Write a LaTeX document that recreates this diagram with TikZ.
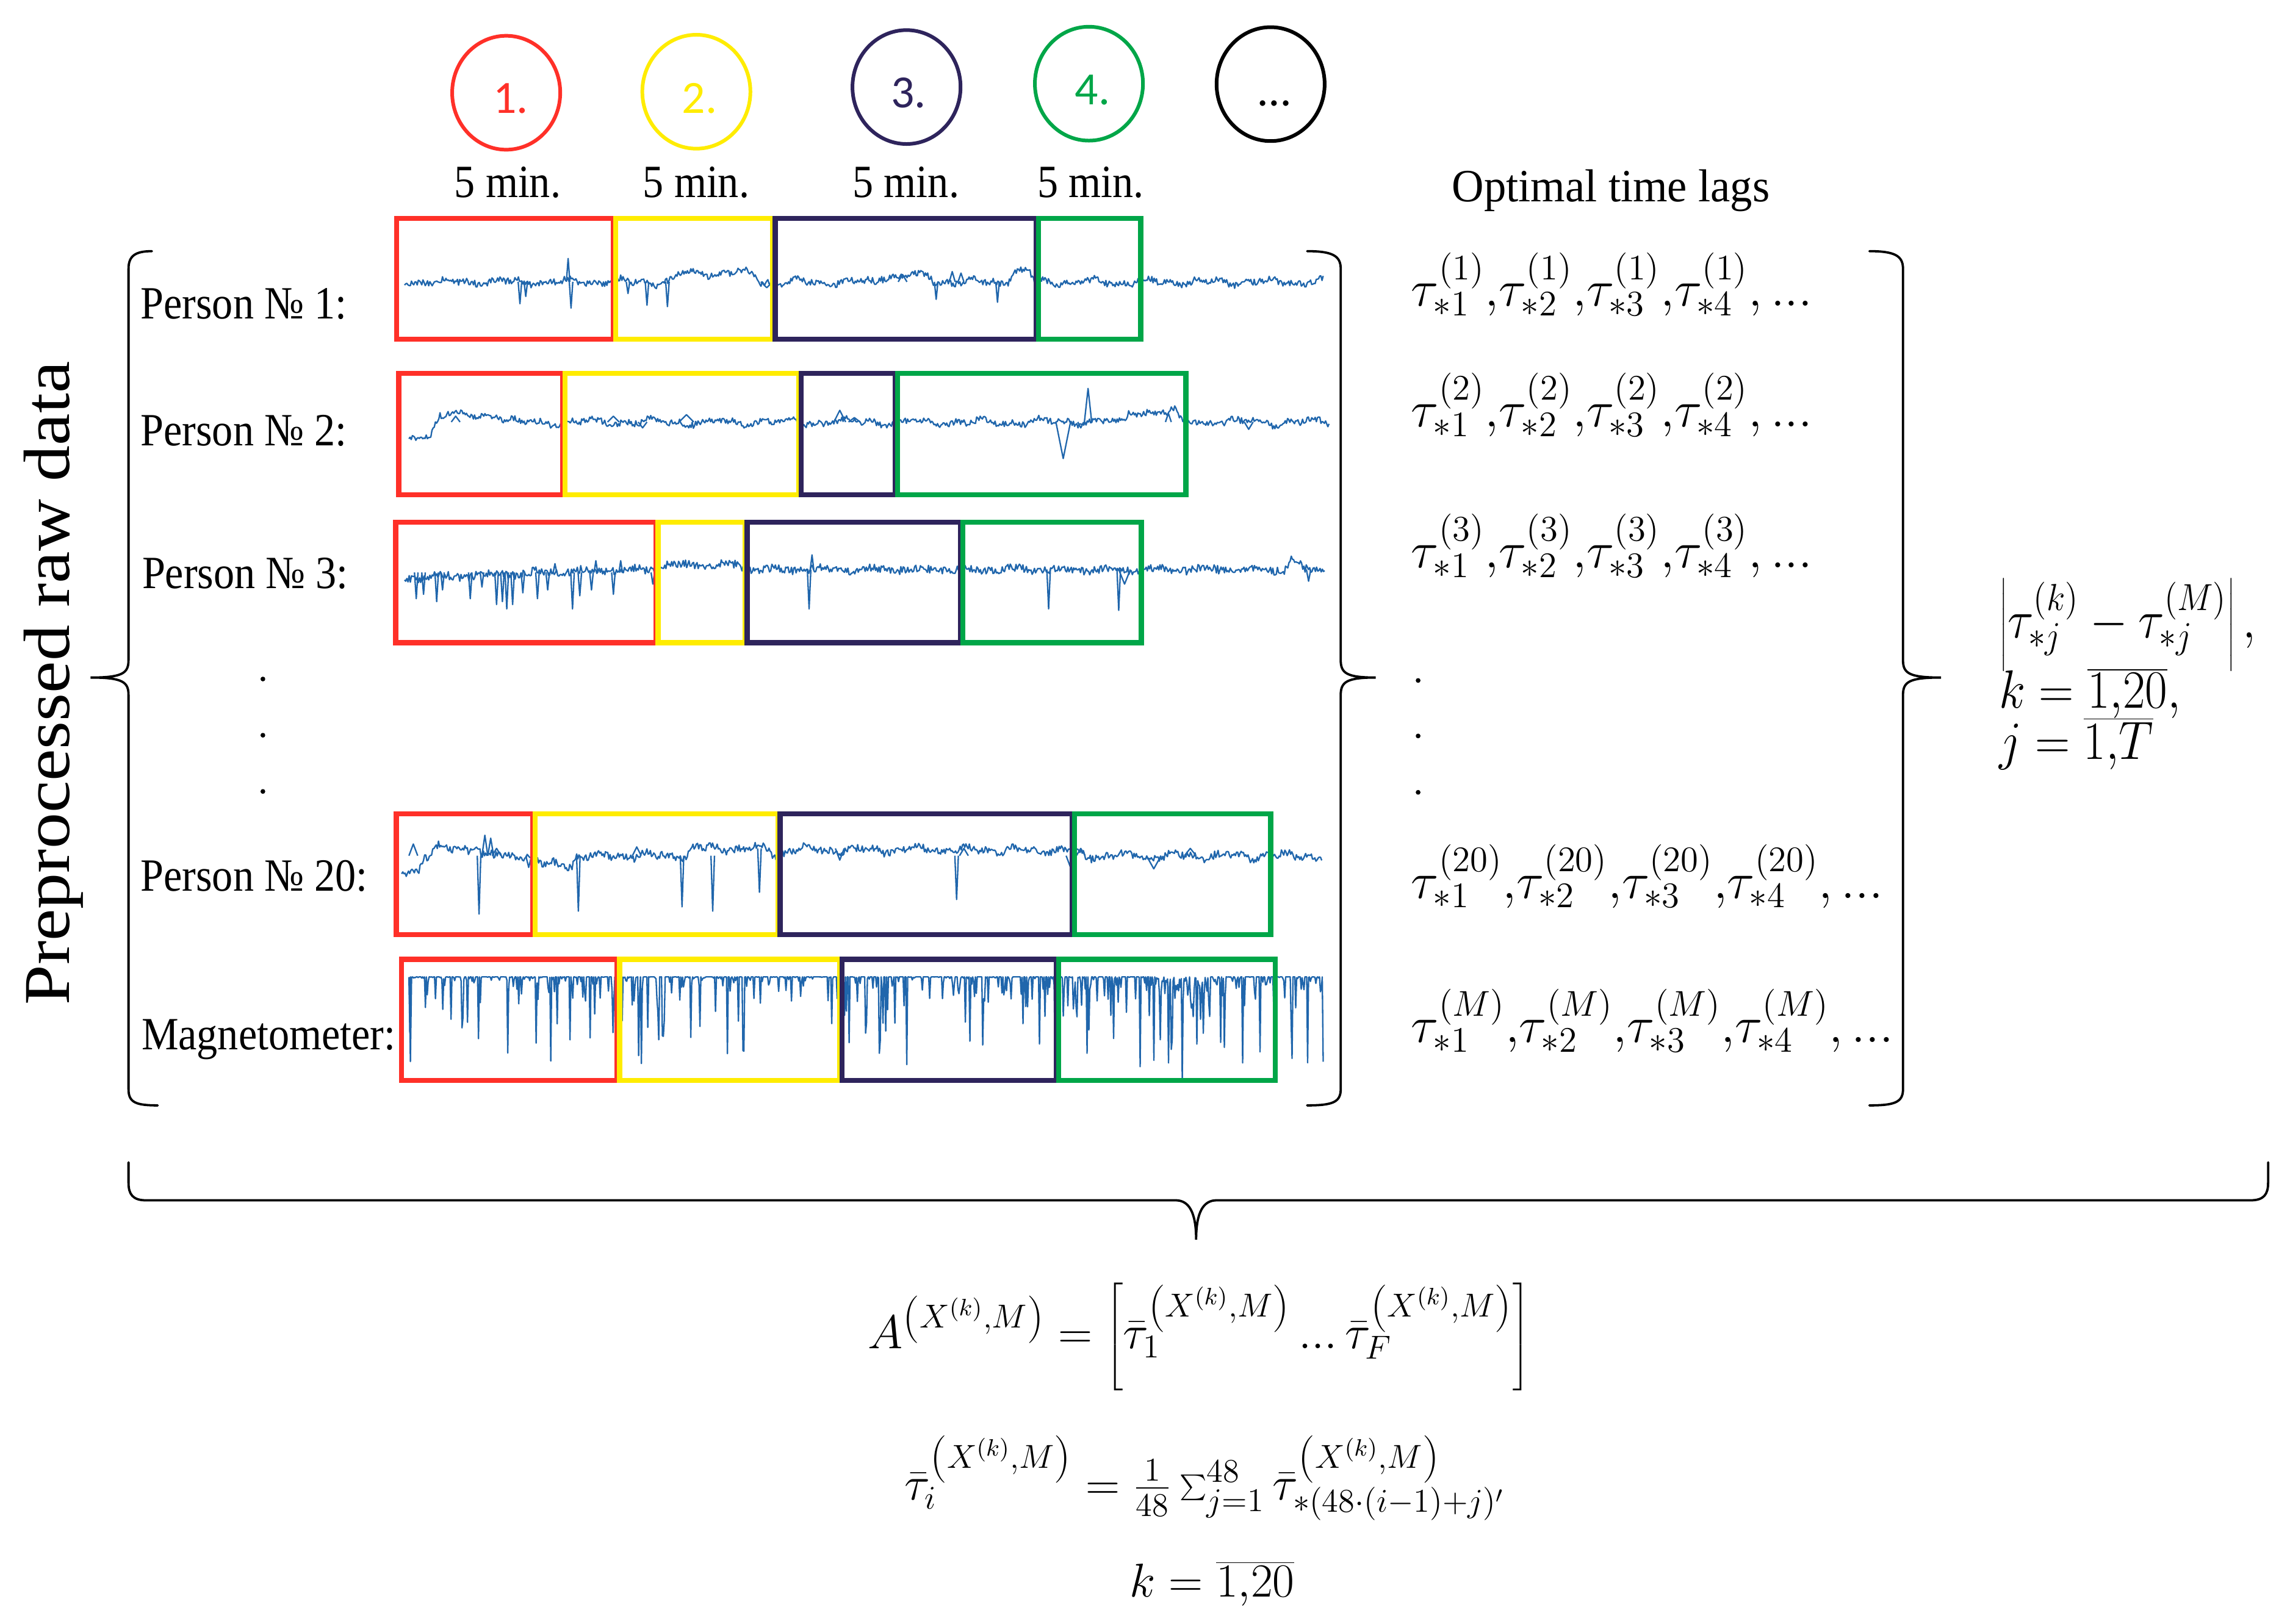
\RequirePackage{fix-cm}
\documentclass[tikz,border=0pt]{standalone}
\usepackage{fontspec}
\newfontfamily\lblfont[FakeStretch=0.9]{Liberation Serif}
\newfontfamily\optfont[FakeStretch=0.96]{Liberation Serif}
\newfontfamily\rotfont[FakeStretch=1.1]{Liberation Serif}
\newfontfamily\numfont{Carlito}
\definecolor{cred}{RGB}{255,48,40}
\definecolor{cyel}{RGB}{255,236,0}
\definecolor{cnav}{RGB}{46,36,92}
\definecolor{cgrn}{RGB}{0,166,72}
\definecolor{sigblue}{RGB}{32,102,172}
\newcommand\mypl[3]{(#3)*min(1,max(0,min((\x-(#1))/3,((#2)-\x)/3)))}
\newcommand\tdots{{.}{.}{.}}
\newcommand\winrow[7]{%
  \draw[win,cred] (#3,#1) rectangle (#4-0.8,#2);
  \draw[win,cyel] (#4+0.8,#1) rectangle (#5-0.8,#2);
  \draw[win,cnav] (#5+0.8,#1) rectangle (#6-0.8,#2);
  \draw[win,cgrn] (#6+0.8,#1) rectangle (#7,#2);
}
% spikes: base y, list of x/depth/halfwidth
\newcommand\spikes[2]{%
  \foreach \sx/\sd/\sw in {#2} {\draw[sig] (\sx-\sw,#1) -- (\sx,#1+\sd) -- (\sx+\sw,#1);}
}
\tikzset{
  win/.style={line width=0.7mm},
  sig/.style={draw=sigblue, line width=0.55pt, line join=round},
  brc/.style={line width=0.9pt, line cap=round},
  ring/.style={line width=0.5mm},
  lbl/.style={font=\lblfont\fontsize{18}{20}\selectfont, inner sep=0pt, anchor=base west},
  mins/.style={font=\lblfont\fontsize{18}{20}\selectfont, inner sep=0pt, anchor=base},
  num/.style={font=\numfont\fontsize{18}{20}\selectfont, inner sep=0pt, anchor=base},
  mth/.style={font=\fontsize{20}{24}\selectfont, inner sep=0pt, anchor=base west},
  rmth/.style={font=\fontsize{21}{24}\selectfont, inner sep=0pt, anchor=base west},
  bmth/.style={font=\fontsize{18.5}{22}\selectfont, inner sep=0pt, anchor=base},
  dotm/.style={fill=black, circle, inner sep=0pt, minimum size=0.65mm},
}
\begin{document}
\begin{tikzpicture}[x=0.2mm,y=-0.2mm]
\useasboundingbox (0,0) rectangle (1568,1112);
\fill[white] (0,0) rectangle (1568,1112);
\pgfmathsetseed{4242}

% ---------- circles ----------
\draw[ring,cred] (346.6,63.5) ellipse [x radius=37, y radius=39];
\draw[ring,cyel] (476.8,62.8) ellipse [x radius=37, y radius=39];
\draw[ring,cnav] (620.7,59.6) ellipse [x radius=37, y radius=39];
\draw[ring,cgrn] (745.6,57.3) ellipse [x radius=37, y radius=39];
\draw[ring,black] (870,57.6) ellipse [x radius=37, y radius=39];
\node[num,text=cred] (n1) at (349.7,77.5) {1.};
\node[num,text=cyel] (n2) at (479,77.5) {2.};
\node[num,text=cnav] (n3) at (622,73.9) {3.};
\node[num,text=cgrn] (n4) at (748,71.5) {4.};
\node[num] (n5) at (872.5,72.3) {…};

\node[mins] (m1) at (347.6,135) {5 min.};
\node[mins] (m2) at (476.7,135) {5 min.};
\node[mins] (m3) at (620.4,135) {5 min.};
\node[mins] (m4) at (746.8,135) {5 min.};
\node[font=\optfont\fontsize{18}{20}\selectfont, inner sep=0pt, anchor=base] (otl) at (1103,138) {Optimal time lags};

% ---------- signals ----------
\draw[sig] plot[domain=277:906, samples=800] (\x, {193 + 2.2*rand + 1.5*sin(9*(\x-277)) + 1.1*sin(21*(\x-277)+50)
  + \mypl{462}{520}{-6} + \mypl{600}{640}{-4} + \mypl{690}{708}{-7}});
\spikes{193}{356/15/1.2, 360/10/1.2, 389/-16/1.2, 391/18/1.2, 420/-8/1.5, 430/8/1.2, 443/16/1.2, 457/17/1.2, 641/12/1.2, 683/14/1.2, 652/-7/2, 658/-6/2, 618/-5/3, 525/4/4}

\draw[sig] plot[domain=280:910, samples=800] (\x, {289 + 2.2*rand + 1.5*sin(8*(\x-280)+20) + 1.2*sin(19*(\x-280))
  + \mypl{276}{298}{9} + \mypl{298}{345}{-5} + \mypl{770}{808}{-7}});
\spikes{289}{312/-4/3, 420/-4/4, 440/4/3, 470/-5/5, 575/-8/4, 585/-3/4, 728/25/5, 740/4/2, 745/-23/2.5, 800/-6/2, 855/5/3}

\draw[sig] plot[domain=277:907, samples=800] (\x, {390 + 2.8*rand + 1.2*sin(11*(\x-277))
  + 6*max(0,(420-\x)/143) + \mypl{452}{510}{-3} + \mypl{880}{892}{-6}});
\spikes{392}{285/18/1.2, 290/15/1.2, 299/20/1.2, 303/12/1.2, 322/18/1.2, 330/10/1.2, 340/22/1.2, 344/20/1.2, 347/25/1.2, 351/22/1.2, 358/14/1.2, 368/18/1.2, 375/12/1.2, 380/-6/1.2, 392/25/1.2, 397/16/1.2, 405/12/1.2, 408/-8/1.2, 420/15/1.2, 425/-8/1.2, 447/8/1.2}
\spikes{390}{554/27/1.2, 556/-10/1.2, 718/27/1.2, 766/28/1.2, 770/10/4, 896/8/1.5}

\draw[sig] plot[domain=275:905, samples=800] (\x, {586 + 2.6*rand + 1.6*sin(10*(\x-275)) + 1.2*sin(23*(\x-275)+30)
  + \mypl{272}{290}{10} + \mypl{295}{330}{-5} + \mypl{366}{395}{6} + \mypl{470}{530}{-5} + \mypl{535}{735}{-4}});
\spikes{586}{283/-8/3, 328/40/1.2, 332/-14/2, 336/-12/2, 340/-5/3, 362/8/2, 396/38/1.2, 436/-6/3, 467/35/1.2, 488/38/1.2, 655/30/1.2, 660/-5/3, 733/8/3, 740/-5/3, 790/9/5, 815/-5/4}
\spikes{581}{520/30/1.2, 575/8/3}

\draw[sig] plot[domain=280:906, samples=1000] (\x, {669 + 62*pow(rnd,10) + 35*pow(rnd,3)*max(0,1-abs(\x-812)/24)});
\spikes{669}{281/58/0.8}

% ---------- windows ----------
\winrow{149.6}{232.3}{271.6}{420.8}{530}{710.2}{781}
\winrow{255.7}{338.8}{273}{386}{547.8}{613.8}{812}
\winrow{357.6}{440.2}{271}{449.8}{510.8}{658.5}{781.5}
\winrow{557.4}{640}{271.4}{365.6}{533.4}{735}{870}
\winrow{657}{740}{275}{423.4}{575.8}{724}{873.3}

% ---------- row labels ----------
\node[lbl] (p1) at (96,218.4) {Person № 1:};
\node[lbl] (p2) at (96,305) {Person № 2:};
\node[lbl] (p3) at (97,402.8) {Person № 3:};
\node[lbl] (p20) at (96,610) {Person № 20:};
\node[lbl] (pm) at (96.6,718.6) {Magnetometer:};
\node[dotm] (ld1) at (180,465) {};
\node[dotm] (ld2) at (180,503.5) {};
\node[dotm] (ld3) at (180,542) {};
\node[font=\rotfont\fontsize{25.5}{28}\selectfont, inner sep=0pt, rotate=90, anchor=base] (prd) at (47.3,467.9) {Preprocessed raw data};

% ---------- braces ----------
\draw[brc] (104,172) .. controls (93,172) and (88,175) .. (88,184) -- (88,452) .. controls (88,461) and (84,464) .. (62,464) .. controls (84,464) and (88,467) .. (88,476) -- (88,746) .. controls (88,755) and (93,757) .. (108,757);
\draw[brc] (895,172) .. controls (912,172) and (918,175) .. (918,184) -- (918,452) .. controls (918,461) and (922,464) .. (942,464) .. controls (922,464) and (918,467) .. (918,476) -- (918,746) .. controls (918,755) and (912,757) .. (895,757);
\draw[brc] (1280,172) .. controls (1297,172) and (1303,175) .. (1303,184) -- (1303,452) .. controls (1303,461) and (1307,464) .. (1329,464) .. controls (1307,464) and (1303,467) .. (1303,476) -- (1303,746) .. controls (1303,755) and (1297,757) .. (1280,757);
\draw[brc] (88,796) -- (88,810) .. controls (88,818) and (91,822) .. (100,822) -- (805,822) .. controls (814,822) and (819,830) .. (819,849) .. controls (819,830) and (824,822) .. (833,822) -- (1541,822) .. controls (1550,822) and (1553,818) .. (1553,810) -- (1553,796);

% ---------- optimal time lags ----------
\node[mth] (t1) at (966,209.7) {$\tau^{(1)}_{*1}{,}\tau^{(1)}_{*2}{,}\tau^{(1)}_{*3}{,}\tau^{(1)}_{*4}{,}\,\tdots$};
\node[mth] (t2) at (966,292.3) {$\tau^{(2)}_{*1}{,}\tau^{(2)}_{*2}{,}\tau^{(2)}_{*3}{,}\tau^{(2)}_{*4}{,}\,\tdots$};
\node[mth] (t3) at (966,388.8) {$\tau^{(3)}_{*1}{,}\tau^{(3)}_{*2}{,}\tau^{(3)}_{*3}{,}\tau^{(3)}_{*4}{,}\,\tdots$};
\node[dotm] (rd1) at (971,466) {};
\node[dotm] (rd2) at (971,504) {};
\node[dotm] (rd3) at (971,542.6) {};
\node[mth] (t20) at (966,615) {$\tau^{(20)}_{*1}{,}\tau^{(20)}_{*2}{,}\tau^{(20)}_{*3}{,}\tau^{(20)}_{*4}{,}\,\tdots$};
\node[mth] (tm) at (966,714) {$\tau^{(M)}_{*1}{,}\tau^{(M)}_{*2}{,}\tau^{(M)}_{*3}{,}\tau^{(M)}_{*4}{,}\,\tdots$};

% ---------- difference formula ----------
\node[rmth] (d1) at (1369,437) {\scalebox{0.9}[1]{$\left|\tau^{(k)}_{*j}-\tau^{(M)}_{*j}\right|{,}$}};
\node[rmth] (d2) at (1368.6,485) {\scalebox{0.9}[1]{$k=\overline{1{,}20}{,}$}};
\node[rmth] (d3) at (1368.6,520) {\scalebox{0.9}[1]{$j=\overline{1{,}T}$}};

% ---------- bottom formulas ----------
\node[bmth] (fa) at (821,923.4) {$A^{\left(X^{(k)},M\right)}=\left[\bar{\tau}_1^{\left(X^{(k)},M\right)}\,\tdots\,\bar{\tau}_F^{\left(X^{(k)},M\right)}\right]$};
\node[bmth] (fb) at (825,1027) {$\bar{\tau}_i^{\left(X^{(k)},M\right)}=\frac{1}{48}\sum_{j=1}^{48}\bar{\tau}_{*(48\cdot(i-1)+j)'}^{\left(X^{(k)},M\right)}$};
\node[bmth] (fc) at (830,1093.6) {$k=\overline{1{,}20}$};
\end{tikzpicture}
\end{document}
